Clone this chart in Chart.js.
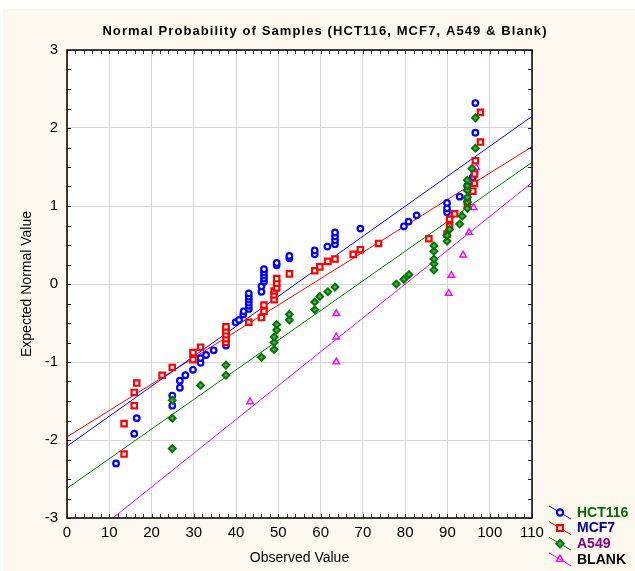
<!DOCTYPE html>
<html>
<head>
<meta charset="utf-8">
<script src="https://cdn.jsdelivr.net/npm/chart.js@4.4.0/dist/chart.umd.min.js"></script>
<style>
  html, body { margin: 0; padding: 0; background: #ffffff; }
  #wrap { width: 635px; height: 571px; }
</style>
</head>
<body>
<div id="wrap"><canvas id="mycanvas" width="635" height="571"></canvas></div>
<script>
// observed value (x) and expected normal value (y) per sample
var hctX = [11.6, 15.9, 16.5, 24.9, 24.9, 26.7, 26.7, 28.0, 29.8, 31.6, 31.6, 32.9, 34.7,
    37.6, 37.6, 37.6, 37.6, 37.6, 39.9, 40.7, 41.7, 41.8,
    43.0, 43.0, 43.0, 43.0, 43.0, 43.0, 46.0, 46.0, 46.6, 46.6, 46.6, 46.6, 46.6,
    49.6, 49.6, 52.6, 52.6, 58.6, 58.6, 61.6, 63.4, 63.4, 63.4, 63.4, 69.4,
    79.7, 80.8, 82.7, 89.9, 89.9, 89.9, 92.9, 94.7, 95.3, 96.0, 96.4, 96.6, 96.6];
var hctY = [-2.30, -1.92, -1.72, -1.56, -1.43, -1.33, -1.24, -1.17, -1.10, -1.01, -0.95, -0.91, -0.85,
    -0.79, -0.73, -0.68, -0.63, -0.58, -0.49, -0.46, -0.39, -0.35,
    -0.32, -0.28, -0.24, -0.20, -0.16, -0.12, -0.10, -0.03, 0.03, 0.07, 0.11, 0.15, 0.19,
    0.24, 0.27, 0.33, 0.36, 0.38, 0.43, 0.48, 0.51, 0.56, 0.61, 0.66, 0.71,
    0.74, 0.80, 0.88, 0.92, 0.97, 1.04, 1.12, 1.26, 1.32, 1.37, 1.42, 1.94, 2.32];

var mcfX = [13.5, 13.5, 15.9, 15.9, 16.5, 22.5, 24.9, 29.8, 29.8, 31.6,
    37.6, 37.6, 37.6, 37.6, 37.6, 43.0, 46.0, 46.6, 46.6, 49.0, 49.0, 49.0, 49.6, 49.6, 49.6,
    52.6, 58.6, 59.8, 61.7, 63.4, 67.7, 69.4, 73.7, 85.6, 89.9, 90.5, 90.5, 91.7,
    94.7, 94.7, 96.0, 96.4, 96.4, 96.6, 97.8, 97.8];
var mcfY = [-2.18, -1.79, -1.56, -1.39, -1.27, -1.17, -1.07, -0.97, -0.88, -0.81,
    -0.75, -0.70, -0.65, -0.60, -0.55, -0.49, -0.43, -0.35, -0.27, -0.20, -0.14, -0.09, -0.05, 0.01, 0.07,
    0.13, 0.17, 0.22, 0.29, 0.32, 0.38, 0.44, 0.52, 0.58, 0.64, 0.74, 0.83, 0.90,
    1.02, 1.09, 1.19, 1.29, 1.41, 1.58, 1.82, 2.20];

var a549X = [24.9, 24.9, 24.9, 31.6, 37.6, 37.6, 46.0, 49.0, 49.0, 49.0, 49.6, 49.6, 52.6, 52.6,
    58.6, 58.6, 59.8, 61.7, 63.4, 77.9, 79.7, 80.9,
    86.8, 86.8, 86.8, 86.8, 86.8, 89.9, 89.9, 90.5, 92.9, 93.5,
    94.7, 94.7, 94.7, 94.7, 94.7, 94.7, 95.8, 96.6, 96.6];
var a549Y = [-2.11, -1.72, -1.49, -1.30, -1.17, -1.04, -0.94, -0.84, -0.75, -0.68, -0.59, -0.52, -0.46, -0.39,
    -0.33, -0.23, -0.16, -0.10, -0.04, 0.00, 0.06, 0.12,
    0.18, 0.26, 0.32, 0.42, 0.49, 0.55, 0.62, 0.70, 0.77, 0.87,
    0.97, 1.05, 1.11, 1.20, 1.26, 1.33, 1.48, 1.74, 2.13];

var blankX = [43.3, 63.7, 63.7, 63.7, 90.3, 90.9, 93.7, 95.1, 96.2, 96.8];
var blankY = [-1.51, -1.00, -0.68, -0.38, -0.12, 0.11, 0.37, 0.66, 0.98, 1.49];

// fitted lines: expected value at x = 0 and at x = 110
var fitX = [0, 110];
var hctFit = [-2.08, 2.15];
var mcfFit = [-1.96, 1.76];
var a549Fit = [-2.62, 1.56];
var blankFit = [-3.47, 1.30];

var xTicks = [0, 10, 20, 30, 40, 50, 60, 70, 80, 90, 100, 110];
var yTicks = [-3, -2, -1, 0, 1, 2, 3];

var seriesNames = ['HCT116', 'MCF7', 'A549', 'BLANK'];
var nameColors = ['#0a6a0a', '#000080', '#800080', '#000000'];
var titleText = 'Normal Probability of Samples (HCT116, MCF7, A549 & Blank)';

function pts(xs, ys) {
    var out = [];
    for (var i = 0; i < xs.length; i++) {
        out.push({x: xs[i], y: ys[i]});
    }
    return out;
}

var FONT = 'Liberation Sans, Arial, sans-serif';

var markers = [
    {color: '#0000ff', style: 'circle', radius: 2.8, bg: '#ffffff', bw: 2.2},
    {color: '#ff0000', style: 'rect', radius: 3.8, bg: '#ffffff', bw: 2.2},
    {color: '#007800', style: 'rectRot', radius: 3.4, bg: '#5aa55a', bw: 2},
    {color: '#ff00ff', style: 'triangle', radius: 3.8, bg: 'rgba(0,0,0,0)', bw: 1.4}
];

function scatterSet(k, data) {
    var m = markers[k];
    return {
        type: 'scatter',
        label: seriesNames[k],
        data: data,
        pointStyle: m.style,
        pointRadius: m.radius,
        pointBorderWidth: m.bw,
        pointBorderColor: m.color,
        pointBackgroundColor: m.bg,
        pointHoverRadius: m.radius
    };
}

function lineSet(k, ys) {
    return {
        type: 'line',
        label: seriesNames[k] + ' fit',
        data: pts(fitX, ys),
        borderColor: k === 2 ? '#008000' : markers[k].color,
        borderWidth: 1,
        pointRadius: 0,
        fill: false
    };
}

// background, frame, minor ticks, title and the legend
var decor = {
    id: 'decor',
    beforeDraw: function (chart) {
        var c = chart.ctx, a = chart.chartArea;
        c.save();
        c.fillStyle = '#ffffff';
        c.fillRect(0, 0, chart.width, chart.height);
        c.fillStyle = '#fdf9ee';
        c.fillRect(3, 9, chart.width - 3, chart.height - 9);
        c.fillStyle = '#ffffff';
        c.fillRect(a.left, a.top, a.right - a.left, a.bottom - a.top);
        c.restore();
    },
    afterDraw: function (chart) {
        var c = chart.ctx, a = chart.chartArea;
        var xs = chart.scales.x, ys = chart.scales.y;
        c.save();
        c.strokeStyle = '#202020';
        c.lineWidth = 1;
        c.beginPath();
        for (var v = 0; v <= 110; v += 2) {
            var px = Math.round(xs.getPixelForValue(v)) + 0.5;
            c.moveTo(px, a.bottom); c.lineTo(px, a.bottom - 4);
            c.moveTo(px, a.top); c.lineTo(px, a.top + 4);
        }
        for (var w = -3; w <= 3.001; w += 0.25) {
            var py = Math.round(ys.getPixelForValue(w)) + 0.5;
            c.moveTo(a.left, py); c.lineTo(a.left + 4, py);
            c.moveTo(a.right, py); c.lineTo(a.right - 4, py);
        }
        c.stroke();
        c.lineWidth = 1.5;
        c.strokeStyle = '#000000';
        c.strokeRect(a.left, a.top, a.right - a.left, a.bottom - a.top);

        // title
        c.fillStyle = '#000000';
        c.font = 'bold 13px ' + FONT;
        c.letterSpacing = '1.1px';
        c.textAlign = 'center';
        c.textBaseline = 'middle';
        c.fillText(titleText, 325, 31);
        c.letterSpacing = '0px';

        // legend
        var lx = a.right + 28, ly = a.bottom - 5.5;
        for (var k = 0; k < 4; k++) {
            var y = ly + k * 15.6;
            var m = markers[k];
            c.strokeStyle = k === 2 ? '#008000' : m.color;
            c.lineWidth = 1;
            c.beginPath();
            c.moveTo(lx - 11, y - 6.5);
            c.lineTo(lx + 11, y + 6.5);
            c.stroke();
            c.strokeStyle = m.color;
            c.fillStyle = m.bg;
            c.lineWidth = m.bw;
            Chart.helpers.drawPoint(c, {pointStyle: m.style, radius: m.radius + 0.3, rotation: 0, borderWidth: m.bw}, lx, y);
            c.fillStyle = nameColors[k];
            c.font = 'bold 14px ' + FONT;
            c.textAlign = 'left';
            c.textBaseline = 'middle';
            c.fillText(seriesNames[k], lx + 17, y + 0.5);
        }
        c.restore();
    }
};

var ctx = document.getElementById('mycanvas');

var chart = new Chart(ctx, {
    type: 'scatter',
    data: {
        datasets: [
            scatterSet(2, pts(a549X, a549Y)),
            scatterSet(3, pts(blankX, blankY)),
            scatterSet(1, pts(mcfX, mcfY)),
            scatterSet(0, pts(hctX, hctY)),
            lineSet(0, hctFit),
            lineSet(1, mcfFit),
            lineSet(2, a549Fit),
            lineSet(3, blankFit)
        ]
    },
    options: {
        responsive: false,
        animation: false,
        devicePixelRatio: 1,
        layout: {padding: {left: 0, right: 103, top: 50, bottom: 0}},
        plugins: {
            legend: {display: false},
            tooltip: {enabled: false},
            title: {display: false}
        },
        scales: {
            x: {
                type: 'linear',
                min: 0,
                max: 110,
                afterBuildTicks: function (s) { s.ticks = xTicks.map(function (v) { return {value: v}; }); },
                afterFit: function (s) { s.height = 53; },
                ticks: {color: '#000000', font: {family: FONT, size: 15}, padding: 6, maxRotation: 0},
                grid: {color: '#d6d6d6', lineWidth: 1, drawTicks: false},
                border: {display: false},
                title: {display: true, text: 'Observed Value', color: '#000000',
                    font: {family: FONT, size: 14}, padding: {top: 0, bottom: 4.6}}
            },
            y: {
                type: 'linear',
                min: -3,
                max: 3,
                afterBuildTicks: function (s) { s.ticks = yTicks.map(function (v) { return {value: v}; }); },
                afterFit: function (s) { s.width = 67; },
                ticks: {color: '#000000', font: {family: FONT, size: 15}, padding: 9},
                grid: {color: '#d6d6d6', lineWidth: 1, drawTicks: false},
                border: {display: false},
                title: {display: true, text: 'Expected Normal Value', color: '#000000',
                    font: {family: FONT, size: 14}, padding: {top: 18.6, bottom: 0}}
            }
        }
    },
    plugins: [decor]
});
</script>
</body>
</html>
